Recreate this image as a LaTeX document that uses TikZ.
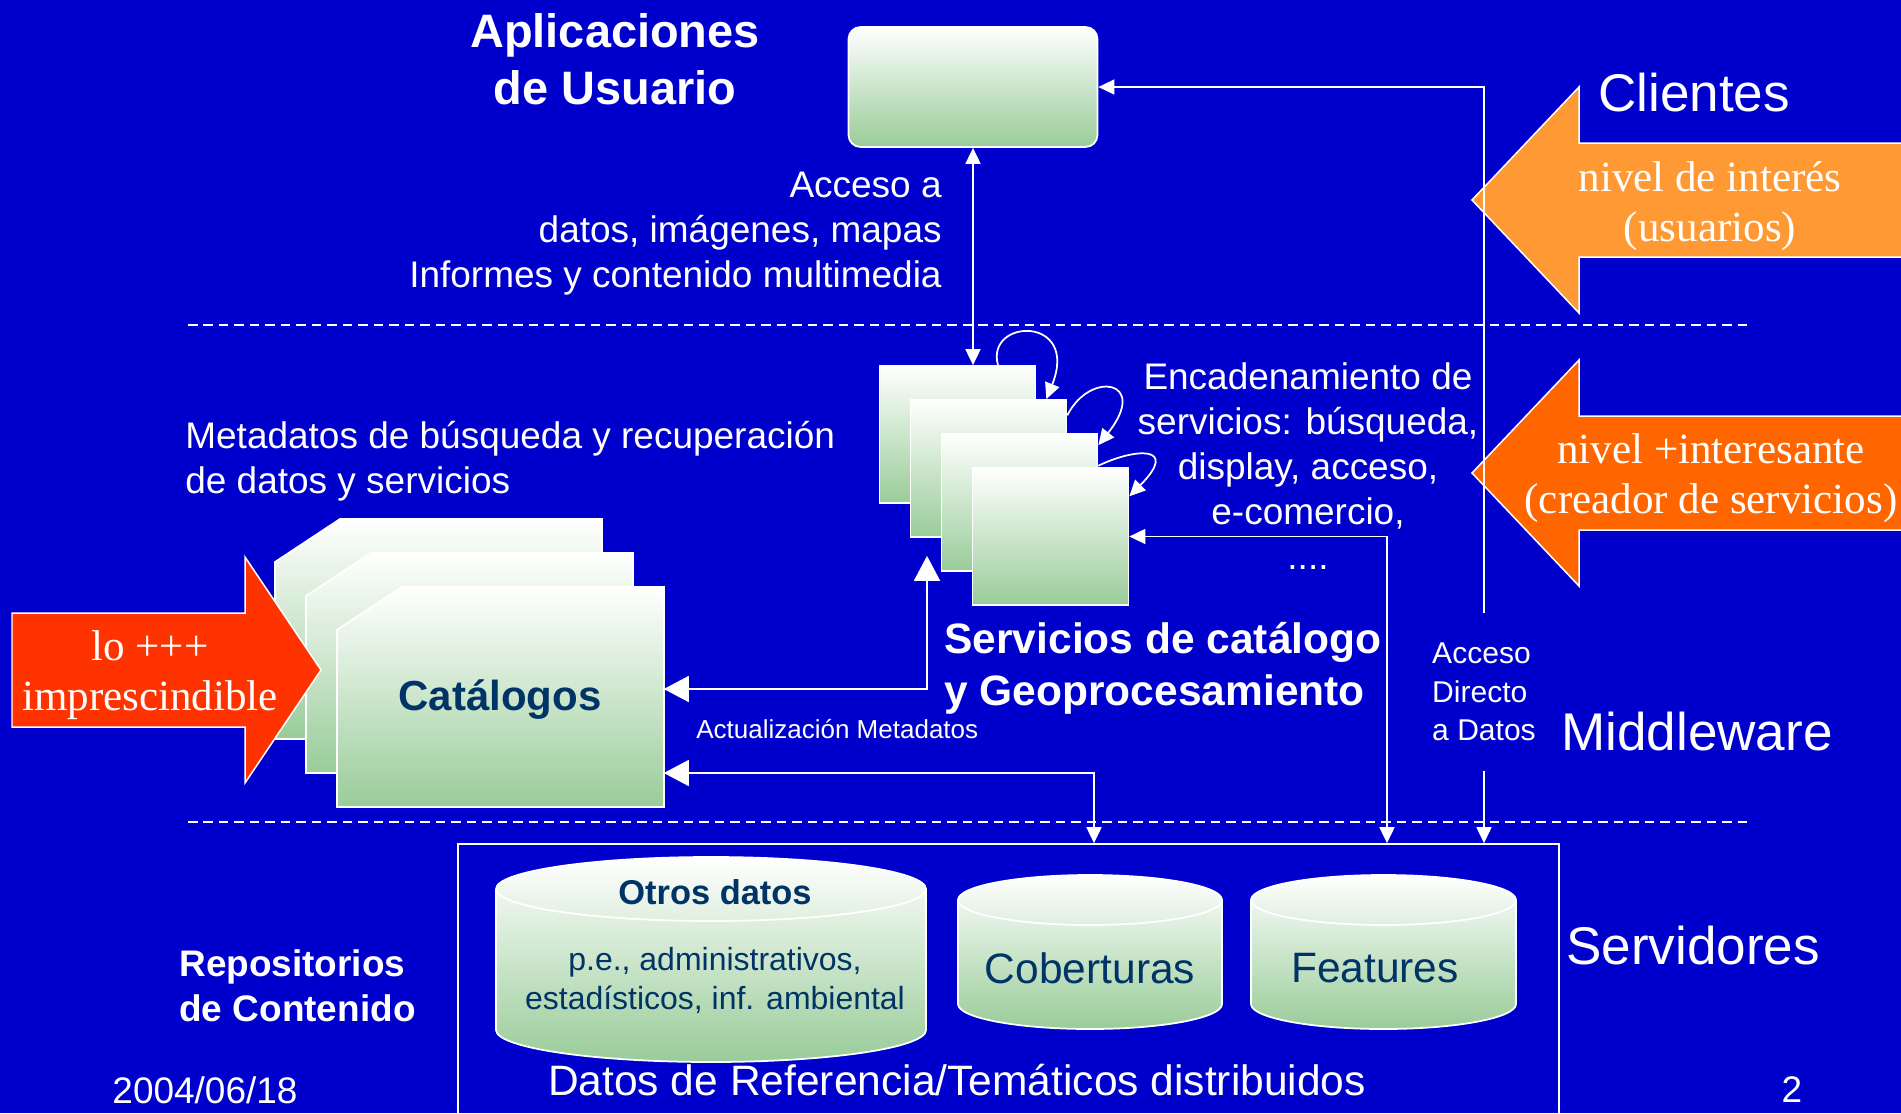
\documentclass[tikz,border=0pt]{standalone}
\usepackage{fontspec}
\setmainfont{Liberation Sans}
\newfontfamily\timesfont{Liberation Serif}
\usetikzlibrary{arrows.meta}
\definecolor{slideblue}{RGB}{0,0,204}
\definecolor{boxgreen}{RGB}{153,204,153}
\definecolor{navytext}{RGB}{0,51,102}
\definecolor{lightorange}{RGB}{255,153,51}
\definecolor{darkorange}{RGB}{255,102,0}
\definecolor{redarrow}{RGB}{255,51,0}
\tikzset{BigTri/.tip={Triangle[length=0.5cm,width=0.52cm]},
         SmTri/.tip={Triangle[length=0.32cm,width=0.3cm]}}
\tikzstyle{gshape} = [draw=white, line width=0.035cm, top color=white, bottom color=boxgreen]
\tikzstyle{gbox} = [rectangle, gshape, inner sep=0pt]
\tikzstyle{appbox} = [gbox, rounded corners=0.24cm, minimum width=4.98cm, minimum height=2.4cm]
\tikzstyle{srvbox} = [gbox, minimum width=3.12cm, minimum height=2.74cm]
\tikzstyle{datosbox} = [rectangle, draw=white, line width=0.035cm, inner sep=0pt, minimum width=22.02cm, minimum height=6cm]
\tikzstyle{rimline} = [draw=white, line width=0.035cm]
\tikzstyle{conn} = [draw=white, line width=0.035cm]
\tikzstyle{layerline} = [draw=white, line width=0.03cm, dash pattern=on 0.19cm off 0.12cm]
\tikzstyle{blockarrow} = [draw=white, line width=0.03cm]
\tikzstyle{bodytxt} = [text=white, inner sep=0pt, font=\fontsize{21.05}{25.6}\selectfont]
\tikzstyle{headtxt} = [text=white, inner sep=0pt, align=center, font=\bfseries\fontsize{26.7}{32.4}\selectfont]
\tikzstyle{srvtxt} = [text=white, inner sep=0pt, align=left, font=\bfseries\fontsize{24.2}{29.6}\selectfont]
\tikzstyle{smalltxt} = [text=white, inner sep=0pt, font=\fontsize{14.8}{18}\selectfont]
\tikzstyle{directtxt} = [text=white, fill=slideblue, inner xsep=0.06cm, inner ysep=0.6cm, align=left, font=\fontsize{17.1}{21.9}\selectfont]
\tikzstyle{tiertxt} = [text=white, inner sep=0pt, font=\fontsize{30.2}{36}\selectfont]
\tikzstyle{repotxt} = [text=white, inner sep=0pt, align=left, font=\bfseries\fontsize{21.05}{25.6}\selectfont]
\tikzstyle{datostxt} = [text=white, inner sep=0pt, font=\fontsize{24.2}{29}\selectfont]
\tikzstyle{cyltxt} = [text=navytext, inner sep=0pt, font=\fontsize{24.2}{29}\selectfont]
\tikzstyle{cylbold} = [text=navytext, inner sep=0pt, font=\bfseries\fontsize{19.6}{23.5}\selectfont]
\tikzstyle{cyldesc} = [text=navytext, inner sep=0pt, align=center, font=\fontsize{18.2}{22.2}\selectfont]
\tikzstyle{cattxt} = [text=navytext, inner sep=0pt, font=\bfseries\fontsize{23.9}{28.7}\selectfont]
\tikzstyle{arrowtxt} = [text=white, inner sep=0pt, align=center, font=\timesfont\fontsize{24.5}{28.7}\selectfont]

\begin{document}
\begin{tikzpicture}[x=0.02cm, y=-0.02cm, node distance=0.62cm]
    \useasboundingbox (0,0) rectangle (1901,1113);
    \fill[slideblue] (0,0) rectangle (1901,1113);

    % tiers
    \draw[layerline] (188,325) -- (1750,325);
    \draw[layerline] (188,822) -- (1750,822);

    % interest arrows on the right
    \draw[blockarrow, fill=lightorange] (1905,143) -- (1579,143) -- (1579,87) -- (1472,200) -- (1579,313) -- (1579,257) -- (1905,257);
    \node (interes) [arrowtxt] at (1710,206) {nivel de interés\\(usuarios)};
    \draw[blockarrow, fill=darkorange] (1905,416) -- (1579,416) -- (1579,360) -- (1472,473) -- (1579,586) -- (1579,530) -- (1905,530);
    \node (creador) [arrowtxt] at (1711,478) {nivel +interesante\\(creador de servicios)};

    % catalogues
    \draw[gshape] (275,562) -- (340,519) -- (602,519) -- (602,739) -- (275,739) -- cycle;
    \draw[gshape] (306,596) -- (371,553) -- (633,553) -- (633,773) -- (306,773) -- cycle;
    \draw[gshape] (337,630) -- (402,587) -- (664,587) -- (664,807) -- (337,807) -- cycle;
    \node (cat) [cattxt, minimum width=6.54cm, minimum height=4.4cm] at (500,700) {Catálogos};

    \draw[blockarrow, fill=redarrow] (12,613) -- (245,613) -- (245,557) -- (321,670) -- (245,783) -- (245,727) -- (12,727) -- cycle;
    \node (imprescindible) [arrowtxt] at (150,675) {lo +++\\imprescindible};

    % services stack and user applications
    \node (srv1) [srvbox] at (957.5,434.5) {};
    \node (srv2) [srvbox, right of=srv1, yshift=-0.68cm] {};
    \node (srv3) [srvbox, right of=srv2, yshift=-0.68cm] {};
    \node (srv4) [srvbox, right of=srv3, yshift=-0.68cm] {};
    \node (app) [appbox] at (973,87) {};

    % data servers
    \node (datos) [datosbox] at (1008.5,994) {};
    \draw[gshape] (496,889) arc[start angle=180, end angle=360, x radius=215, y radius=32] -- (926,1030) arc[start angle=0, end angle=180, x radius=215, y radius=32] -- cycle;
    \draw[rimline] (496,889) arc[start angle=180, end angle=0, x radius=215, y radius=32];
    \draw[gshape] (958,900) arc[start angle=180, end angle=360, x radius=132, y radius=25] -- (1222,1004) arc[start angle=0, end angle=180, x radius=132, y radius=25] -- cycle;
    \draw[rimline] (958,900) arc[start angle=180, end angle=0, x radius=132, y radius=25];
    \draw[gshape] (1251,900) arc[start angle=180, end angle=360, x radius=132.5, y radius=25] -- (1516,1004) arc[start angle=0, end angle=180, x radius=132.5, y radius=25] -- cycle;
    \draw[rimline] (1251,900) arc[start angle=180, end angle=0, x radius=132.5, y radius=25];
    \node (otros) [cylbold] at (715,892) {Otros datos};
    \node (otrosdesc) [cyldesc] at (715,980) {p.e., administrativos,\\estadísticos, inf. ambiental};
    \node (cober) [cyltxt] at (1090,968) {Coberturas};
    \node (feat) [cyltxt] at (1375,968) {Features};
    \node (datoslbl) [datostxt] at (957,1080) {Datos de Referencia/Temáticos distribuidos};

    % connectors
    \draw[conn, SmTri-SmTri] (app.south) -- (app.south |- srv1.north);
    \draw[conn, SmTri-SmTri] (1484,0 |- datos.north) |- node[directtxt, pos=0.1] {Acceso\\Directo\\a Datos} (app.east);
    \draw[conn, SmTri-SmTri] (srv4.east) -| (1387,0 |- datos.north);
    \draw[conn, BigTri-BigTri, shorten >=0.36cm] (cat.east |- 0,689) -| (srv2.south -| 927,0);
    \draw[conn, BigTri-SmTri] (cat.east |- 0,773) -| (1094,0 |- datos.north);
    \draw[conn, -SmTri] ([xshift=0.81cm]srv1.north) .. controls (985,318) and (1080,315) .. ([xshift=-0.42cm]srv2.north east);
    \draw[conn, -SmTri] (srv2.34) .. controls (1090,370) and (1150,380) .. (srv3.36);
    \draw[conn, -SmTri] (srv3.25) .. controls (1135,448) and (1180,445) .. (srv4.27);

    % labels
    \node (apptitle) [headtxt] at (615,59) {Aplicaciones\\de Usuario};
    \node (acceso) [bodytxt, align=right, anchor=east] at (942,234) {Acceso a\\datos, imágenes, mapas\\Informes y contenido multimedia};
    \node (metadatos) [bodytxt, align=left, anchor=west] at (185,461) {Metadatos de búsqueda y recuperación\\de datos y servicios};
    \node (encadena) [bodytxt, align=center] at (1308,466) {Encadenamiento de\\servicios: búsqueda,\\display, acceso,\\e-comercio,\\....};
    \node (srvtitle) [srvtxt, anchor=west] at (944,668) {Servicios de catálogo\\y Geoprocesamiento};
    \node (actlbl) [smalltxt, anchor=west] at (696,729) {Actualización Metadatos};
    \node (clientes) [tiertxt] at (1694,93) {Clientes};
    \node (middleware) [tiertxt] at (1697,732) {Middleware};
    \node (servidores) [tiertxt] at (1693,946) {Servidores};
    \node (repos) [repotxt, anchor=west] at (179,986) {Repositorios\\de Contenido};
    \node (fecha) [bodytxt] at (205,1090) {2004/06/18};
    \node (pagina) [bodytxt] at (1792,1090) {2};
\end{tikzpicture}
\end{document}
